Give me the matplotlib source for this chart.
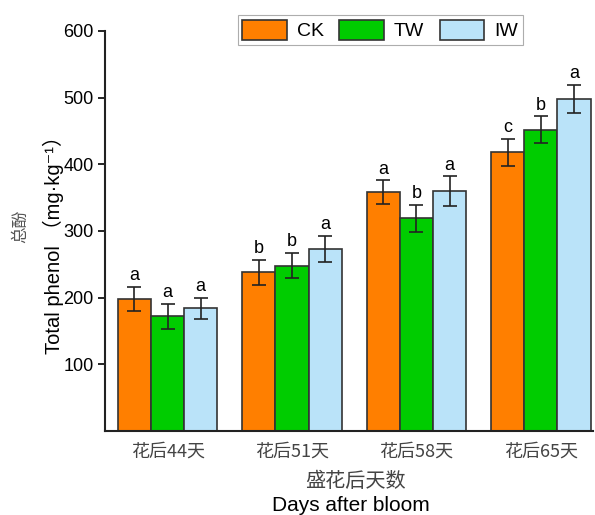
import matplotlib.pyplot as plt
import numpy as np

plt.rcParams['font.family'] = ['Liberation Sans', 'Noto Sans CJK SC', 'DejaVu Sans']

# data
groups = ['花后44天', '花后51天', '花后58天', '花后65天']
treatments = ['CK', 'TW', 'IW']
ck = [198, 238, 358, 418]
tw = [172, 248, 319, 452]
iw = [184, 273, 360, 498]
ck_err = [18, 19, 18, 20]
tw_err = [19, 19, 20, 20]
iw_err = [16, 20, 22, 21]
ck_sig = ['a', 'b', 'a', 'c']
tw_sig = ['a', 'b', 'b', 'b']
iw_sig = ['a', 'a', 'a', 'a']

colors = ['#FF7F00', '#00CC00', '#BAE3F9']

fig = plt.figure(figsize=(5.95, 5.15), dpi=100)
ax = fig.add_axes([0.177, 0.163, 0.82, 0.777])

x = np.arange(len(groups))
w = 0.266
series = [(ck, ck_err, ck_sig), (tw, tw_err, tw_sig), (iw, iw_err, iw_sig)]
for i, (vals, errs, sigs) in enumerate(series):
    pos = x + (i - 1) * w
    ax.bar(pos, vals, w, color=colors[i], edgecolor='#333333', linewidth=1.2,
           label=treatments[i], zorder=2)
    ax.errorbar(pos, vals, yerr=errs, fmt='none', ecolor='#222222',
                elinewidth=1.2, capsize=5, capthick=1.2, zorder=3)
    for p, v, e, s in zip(pos, vals, errs, sigs):
        ax.text(p, v + e + 4, s, ha='center', va='bottom', fontsize=13)

ax.set_ylim(0, 600)
ax.set_xlim(-0.5, 3.42)
ax.set_yticks([100, 200, 300, 400, 500, 600])
ax.set_xticks(x)
ax.set_xticklabels(groups, fontsize=13, color='#444444',
                   family=['Noto Sans CJK SC', 'Liberation Sans'])
ax.tick_params(axis='y', direction='out', length=5, width=1.2, labelsize=13)
ax.tick_params(axis='x', direction='in', length=5, width=1.2, pad=8)
for s in ['top', 'right']:
    ax.spines[s].set_visible(False)
for s in ['left', 'bottom']:
    ax.spines[s].set_linewidth(1.5)
    ax.spines[s].set_color('#222222')

ax.set_ylabel('Total phenol （mg·kg⁻¹）', fontsize=14.5,
              family=['Liberation Sans', 'Noto Sans CJK SC', 'DejaVu Sans'])
ax.yaxis.set_label_coords(-0.084, 0.478)
fig.text(0.035, 0.561, '总酚', rotation=90, ha='center', va='center',
         fontsize=12, color='#555555', family=['Noto Sans CJK SC'])
fig.text(0.597, 0.066, '盛花后天数', ha='center', va='center', fontsize=14.5,
         color='#444444', family=['Noto Sans CJK SC'])
fig.text(0.589, 0.018, 'Days after bloom', ha='center', va='center', fontsize=15)

leg = ax.legend(loc='upper center', bbox_to_anchor=(0.639, 0.99),
                bbox_transform=fig.transFigure, ncol=3, fontsize=14,
                frameon=True, fancybox=False, edgecolor='#999999',
                handlelength=2.3, handleheight=1.2, columnspacing=0.8,
                handletextpad=0.5, borderpad=0.25)
leg.get_frame().set_linewidth(0.8)

fig.savefig('out.png', dpi=100)
